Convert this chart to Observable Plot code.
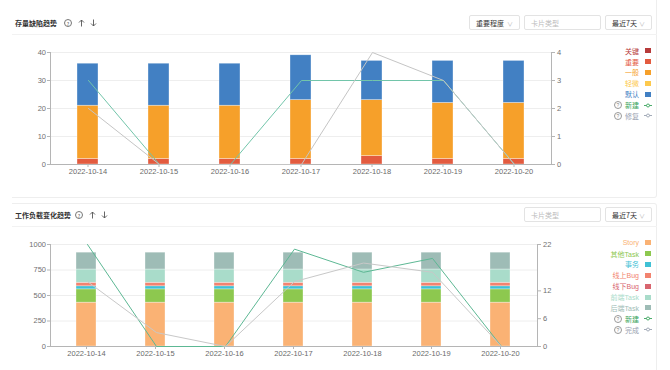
<!DOCTYPE html>
<html><head><meta charset="utf-8">
<script src="https://cdn.jsdelivr.net/npm/d3@7"></script>
<script src="https://cdn.jsdelivr.net/npm/@observablehq/plot@0.6"></script>
<style>
html,body{margin:0;padding:0;background:#fff;}
body{width:670px;height:370px;overflow:hidden;position:relative;font-family:"Liberation Sans","Noto Sans CJK SC",sans-serif;}
.abs{position:absolute;}
.card{position:absolute;left:12px;width:644px;border:1px solid #eeeeee;border-left:none;border-radius:0 3px 3px 0;background:#fff;}
.sep{position:absolute;left:12px;width:645px;height:1px;background:#f2f2f2;}
.head{position:absolute;left:15px;height:12px;display:flex;align-items:center;font-size:7px;color:#333;font-family:"Noto Sans CJK SC",sans-serif;}
.head b{font-weight:700;}
.qicon{display:inline-flex;align-items:center;justify-content:center;width:6px;height:6px;border:0.8px solid #777;border-radius:50%;font-size:5px;color:#555;line-height:1;}
.box{position:absolute;height:15px;border:1px solid #e3e3e3;border-radius:2px;box-sizing:border-box;font-size:7px;display:flex;align-items:center;font-family:"Noto Sans CJK SC",sans-serif;}
.chev{position:absolute;right:6px;top:3px;font-size:6px;color:#bbb;}
.legend{position:absolute;right:19px;display:flex;flex-direction:column;align-items:flex-end;font-size:7px;font-family:"Liberation Sans","Noto Sans CJK SC",sans-serif;}
.lrow{height:10.9px;display:flex;align-items:center;white-space:nowrap;}
.sw{display:inline-block;width:6px;height:5px;margin-left:6px;}
.lq{display:inline-flex;align-items:center;justify-content:center;width:6px;height:6px;border:0.7px solid #999;border-radius:50%;font-size:5px;color:#888;margin-right:3px;}
</style></head><body>
<script>
// ---------- data ----------
const dates = ["2022-10-14","2022-10-15","2022-10-16","2022-10-17","2022-10-18","2022-10-19","2022-10-20"];

// 存量缺陷趋势 (stacked bars, left axis)
const defectSeries   = ["关键","重要","一般","轻微","默认"];
const defectCritical = [0,0,0,0,0,0,0];
const defectMajor    = [2,2,2,2,3,2,2];
const defectNormal   = [19,19,19,21,20,20,20];
const defectMinor    = [0,0,0,0,0,0,0];
const defectDefault  = [15,15,15,16,14,15,15];
// lines (right axis)
const defectLineSeries = ["新建","修复"];
const defectNew   = [3,0,0,3,3,3,0];
const defectFixed = [2,0,0,0,4,3,0];
const defectLeftTicks  = [0,10,20,30,40];
const defectRightTicks = [0,1,2,3,4];

// 工作负载变化趋势 (stacked bars, left axis)
const workSeries     = ["Story","其他Task","事务","线上Bug","线下Bug","前端Task","后端Task"];
const workStory      = [430,430,430,430,430,430,430];
const workOtherTask  = [130,130,130,130,130,130,130];
const workAffair     = [30,30,30,30,30,30,30];
const workOnlineBug  = [35,35,35,35,35,35,35];
const workOfflineBug = [0,0,0,0,0,0,0];
const workFrontTask  = [130,130,130,130,130,130,130];
const workBackTask   = [165,165,165,165,165,165,165];
// lines (right axis)
const workLineSeries = ["新建","完成"];
const workNew  = [22,0,0,21,16,19,0];
const workDone = [14,3,0,14,18,16,0];
const workLeftTicks  = [0,250,500,750,1000];
const workRightTicks = [0,6,12,22];

// ---------- styles ----------
const defectColors = ["#b73a3a","#e35b3f","#f6a02a","#fdc94d","#4280c3"];
const defectLineColors = ["#72c5aa","#c5c5c5"];
const defectLegendLineColors = ["#39a45b","#98a1b0"];
const workColors = ["#fab274","#8dc84f","#40c1d5","#f2836f","#d8656f","#a9dcca","#9ebcb6"];
const workLineColors = ["#5db894","#c8c8c8"];
const workLegendLineColors = ["#39a45b","#98a1b0"];

function toLong(series, arrays) {
  return series.flatMap((s, k) => dates.map((d, i) => ({date: d, series: s, value: arrays[k][i]})));
}

const FONT = '"Liberation Sans","Noto Sans CJK SC",sans-serif';

function dualChart(o) {
  const wrap = document.createElement("div");
  wrap.className = "abs";
  wrap.style.left = o.left + "px";
  wrap.style.top = o.top + "px";
  wrap.style.width = o.width + "px";
  wrap.style.height = o.height + "px";
  const common = {
    width: o.width, height: o.height,
    marginTop: o.mt, marginBottom: o.mb, marginLeft: o.ml, marginRight: o.mr,
    style: {background: "transparent", fontFamily: FONT, fontSize: "7.5px", overflow: "visible"}
  };
  const bars = Plot.plot({
    ...common,
    x: {type: "band", domain: dates, paddingInner: 0.71, paddingOuter: 0.355, axis: null, label: null},
    y: {domain: o.yDomain, axis: null, label: null},
    color: {domain: o.barSeries, range: o.barColors},
    marks: [
      Plot.gridY(o.yTicks, {stroke: "#eeeeee", strokeOpacity: 1}),
      Plot.barY(o.barData.filter(d => d.value > 0), {x: "date", y: "value", fill: "series", stroke: "#ffffff", strokeWidth: 0.6, strokeOpacity: 0.55}),
      Plot.ruleY([0], {stroke: "#b5b5b5"}),
      Plot.frame({anchor: "left", stroke: "#b5b5b5"}),
      Plot.axisY(o.yTicks, {anchor: "left", label: null, tickFormat: d => String(d), tickSize: 3, tickPadding: 1.5, stroke: "#b5b5b5", fill: "#707070"}),
      Plot.axisX({anchor: "bottom", label: null, tickSize: 3, tickPadding: 1, stroke: "#b5b5b5", fill: "#6a6a6a"})
    ]
  });
  const lines = Plot.plot({
    ...common,
    x: {type: "point", domain: dates, padding: 0.5, axis: null, label: null},
    y: {domain: o.y2Domain, axis: null, label: null},
    color: {domain: o.lineSeries, range: o.lineColors},
    marks: [
      Plot.frame({anchor: "right", stroke: "#b5b5b5"}),
      Plot.axisY(o.y2Ticks, {anchor: "right", label: null, tickFormat: d => String(d), tickSize: 3, tickPadding: 2.5, stroke: "#b5b5b5", fill: "#707070"}),
      Plot.line(o.lineData, {x: "date", y: "value", z: "series", stroke: "series", strokeWidth: 1})
    ]
  });
  bars.style.position = "absolute"; bars.style.left = "0"; bars.style.top = "0";
  lines.style.position = "absolute"; lines.style.left = "0"; lines.style.top = "0";
  wrap.appendChild(bars);
  wrap.appendChild(lines);
  document.body.appendChild(wrap);
}

function el(html) {
  const t = document.createElement("template");
  t.innerHTML = html.trim();
  const n = t.content.firstChild;
  document.body.appendChild(n);
  return n;
}

const upArrow = (ml) => `<svg width="7" height="8" style="margin-left:${ml}px"><path d="M3.5 7.5V1 M1 3.5L3.5 1L6 3.5" fill="none" stroke="#555" stroke-width="0.9"/></svg>`;
const downArrow = (ml) => `<svg width="7" height="8" style="margin-left:${ml}px"><path d="M3.5 0.5V7 M1 4.5L3.5 7L6 4.5" fill="none" stroke="#555" stroke-width="0.9"/></svg>`;

function legend(top, series, colors, lineSeries, lineColors) {
  let h = `<div class="legend" style="top:${top}px">`;
  series.forEach((s, i) => {
    h += `<div class="lrow"><span style="color:${colors[i]}">${s}</span><span class="sw" style="background:${colors[i]}"></span></div>`;
  });
  lineSeries.forEach((s, i) => {
    h += `<div class="lrow"><span class="lq">?</span><span style="color:${lineColors[i]}">${s}</span>` +
         `<svg width="8" height="5" style="margin-left:5px;margin-right:-1px"><line x1="0" y1="2.5" x2="8" y2="2.5" stroke="${lineColors[i]}" stroke-width="0.9"/><circle cx="4" cy="2.5" r="1.5" fill="#fff" stroke="${lineColors[i]}" stroke-width="0.9"/></svg></div>`;
  });
  h += `</div>`;
  el(h);
}

// ---------- cards & headers ----------
el(`<div class="card" style="top:-5px;height:201px"></div>`);
el(`<div class="card" style="top:203px;height:200px"></div>`);
el(`<div class="sep" style="top:34px"></div>`);
el(`<div class="sep" style="top:226px"></div>`);

el(`<div class="head" style="top:17px"><b>存量缺陷趋势</b><span class="qicon" style="margin-left:7px">?</span>${upArrow(6)}${downArrow(5)}</div>`);
el(`<div class="head" style="top:209px"><b>工作负载变化趋势</b><span class="qicon" style="margin-left:4px">?</span>${upArrow(6)}${downArrow(5)}</div>`);

el(`<div class="box" style="left:469px;top:15px;width:51px;color:#333;padding-left:6px">重要程度<span class="chev">∨</span></div>`);
el(`<div class="box" style="left:524px;top:15px;width:77px;color:#bbb;padding-left:6px">卡片类型</div>`);
el(`<div class="box" style="left:605px;top:15px;width:47px;color:#333;padding-left:6px">最近7天<span class="chev">∨</span></div>`);
el(`<div class="box" style="left:524px;top:207px;width:77px;color:#bbb;padding-left:6px">卡片类型</div>`);
el(`<div class="box" style="left:605px;top:207px;width:47px;color:#333;padding-left:6px">最近7天<span class="chev">∨</span></div>`);

// ---------- charts ----------
dualChart({
  left: 0, top: 40, width: 600, height: 145, mt: 12, mb: 21, ml: 50, mr: 49,
  barSeries: defectSeries, barColors: defectColors,
  barData: toLong(defectSeries, [defectCritical, defectMajor, defectNormal, defectMinor, defectDefault]),
  yDomain: [0, 40], yTicks: defectLeftTicks,
  lineSeries: defectLineSeries, lineColors: defectLineColors,
  lineData: toLong(defectLineSeries, [defectNew, defectFixed]),
  y2Domain: [0, 4], y2Ticks: defectRightTicks
});
dualChart({
  left: 0, top: 230, width: 590, height: 135, mt: 14, mb: 19, ml: 50, mr: 53,
  barSeries: workSeries, barColors: workColors,
  barData: toLong(workSeries, [workStory, workOtherTask, workAffair, workOnlineBug, workOfflineBug, workFrontTask, workBackTask]),
  yDomain: [0, 1000], yTicks: workLeftTicks,
  lineSeries: workLineSeries, lineColors: workLineColors,
  lineData: toLong(workLineSeries, [workNew, workDone]),
  y2Domain: [0, 22], y2Ticks: workRightTicks
});

legend(45.2, defectSeries, defectColors, defectLineSeries, defectLegendLineColors);
legend(237.2, workSeries, workColors, workLineSeries, workLegendLineColors);
</script>
</body></html>
